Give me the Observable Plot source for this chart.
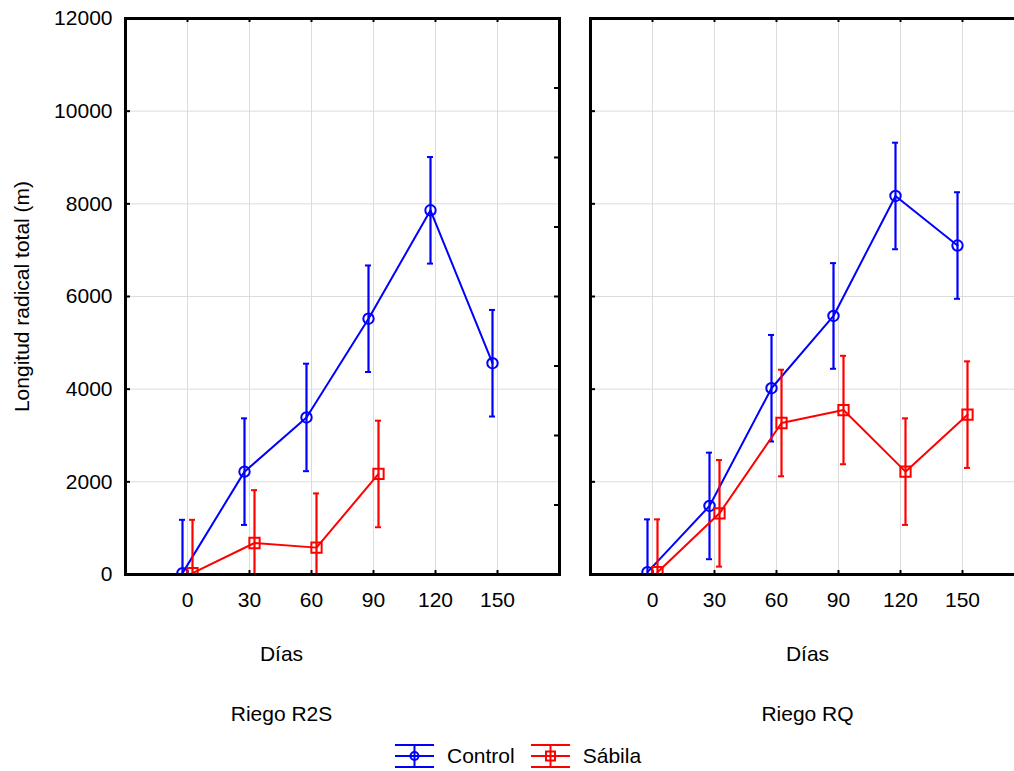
<!DOCTYPE html>
<html>
<head>
<meta charset="utf-8">
<script src="https://cdn.jsdelivr.net/npm/d3@7"></script>
<script src="https://cdn.jsdelivr.net/npm/@observablehq/plot@0.6"></script>
<style>
  html, body { margin: 0; padding: 0; background: #fff; overflow: hidden; }
  #wrap { position: relative; width: 1014px; height: 771px; overflow: hidden; }
  #chart svg { max-width: none !important; }
  #legend { position: absolute; left: 395px; top: 744px; display: flex; align-items: center;
            font-family: "Liberation Sans", Arial, sans-serif; font-size: 21px; color: #000; }
  #legend .item { display: flex; align-items: center; }
  #legend svg { display: block; }
</style>
</head>
<body>
<div id="wrap"><div id="chart"></div><div id="legend"></div></div>
<script>
// ---- data ----
const panels = ["Riego R2S", "Riego RQ"];
const series = ["Control", "Sábila"];
const seriesColors = ["#0000ff", "#ff0000"];
const days = [0, 30, 60, 90, 120, 150];

const r2sControl    = [30, 2220, 3390, 5520, 7860, 4560];
const r2sControlErr = [1150, 1150, 1160, 1150, 1150, 1150];
const r2sSabila     = [30, 680, 580, 2170];
const r2sSabilaErr  = [1150, 1140, 1170, 1150];

const rqControl     = [50, 1480, 4020, 5580, 8170, 7100];
const rqControlErr  = [1140, 1150, 1150, 1140, 1150, 1150];
const rqSabila      = [50, 1320, 3270, 3550, 2220, 3450];
const rqSabilaErr   = [1140, 1150, 1150, 1170, 1150, 1150];

const yTicks = [0, 2000, 4000, 6000, 8000, 10000, 12000];
const yRightTicks = [1500, 3000, 4500, 6000, 7500, 9000, 10500];
const yLabel = "Longitud radical total (m)";
const xLabel = "Días";

// ---- build table ----
function rowsFor(panel, s, values, errs) {
  return values.map((v, i) => ({panel, series: s, day: days[i], value: v, lo: v - errs[i], hi: v + errs[i]}));
}
const rows = [
  ...rowsFor(panels[0], series[0], r2sControl, r2sControlErr),
  ...rowsFor(panels[0], series[1], r2sSabila, r2sSabilaErr),
  ...rowsFor(panels[1], series[0], rqControl, rqControlErr),
  ...rowsFor(panels[1], series[1], rqSabila, rqSabilaErr)
];

const width = 1024, height = 740;
const marginLeft = 125, marginRight = 0, marginTop = 18, marginBottom = 166;
const frameH = height - marginTop - marginBottom;
const gap = 31;
const bandW = (width - marginLeft - marginRight - gap) / 2;

const seriesStyle = {
  "Control": {dx: -5, symbol: "circle", r: 5.2},
  "Sábila":  {dx: 5,  symbol: "square", r: 5.8}
};

const dataMarks = [];
for (const s of series) {
  const data = rows.filter(d => d.series === s);
  const st = seriesStyle[s];
  const common = {fx: "panel", stroke: "series", dx: st.dx, clip: true};
  dataMarks.push(
    Plot.ruleX(data, {...common, x: "day", y1: "lo", y2: "hi", strokeWidth: 2.2}),
    Plot.ruleY(data, {...common, y: "hi", x1: "day", x2: "day", insetLeft: -3, insetRight: -3, strokeWidth: 2}),
    Plot.ruleY(data, {...common, y: "lo", x1: "day", x2: "day", insetLeft: -3, insetRight: -3, strokeWidth: 2}),
    Plot.line(data, {...common, x: "day", y: "value", strokeWidth: 2}),
    Plot.dot(data, {...common, x: "day", y: "value", symbol: st.symbol, r: st.r, fill: "none", strokeWidth: 2})
  );
}

const fmt = d => String(d);

const chart = Plot.plot({
  width, height, marginLeft, marginRight, marginTop, marginBottom,
  style: {fontFamily: "'Liberation Sans', Arial, sans-serif", fontSize: "21px", color: "#000", background: "#fff", maxWidth: "none"},
  fx: {domain: panels, axis: null, paddingInner: gap / (bandW + gap), paddingOuter: 0, label: null},
  x: {domain: [-30, 180], label: null},
  y: {domain: [0, 12000], label: null},
  color: {domain: series, range: seriesColors},
  marks: [
    Plot.gridX(days, {stroke: "#dcdcdc", strokeOpacity: 1, strokeWidth: 1}),
    Plot.gridY(yTicks.slice(1, -1), {stroke: "#dcdcdc", strokeOpacity: 1, strokeWidth: 1}),
    // inward frame ticks
    Plot.ruleX(days, {insetTop: frameH - 4, stroke: "#000", strokeWidth: 2}),
    Plot.ruleX(days, {insetBottom: frameH - 4, stroke: "#000", strokeWidth: 2}),
    Plot.ruleY(yTicks, {insetRight: bandW - 5, stroke: "#000", strokeWidth: 2}),
    Plot.ruleY(yRightTicks, {insetLeft: bandW - 5, stroke: "#000", strokeWidth: 2}),
    Plot.axisX(days, {tickSize: 0, tickPadding: 18, label: null, fontSize: 21, tickFormat: fmt}),
    Plot.axisY(yTicks, {tickSize: 0, tickPadding: 13, label: yLabel, labelAnchor: "center", labelOffset: 111, labelArrow: "none", fontSize: 21, tickFormat: fmt}),
    ...dataMarks,
    Plot.frame({stroke: "#000", strokeWidth: 3}),
    Plot.text([panels[0]], {fx: d => d, text: () => xLabel, frameAnchor: "bottom", dx: -61, dy: 86, fontSize: 21}),
    Plot.text([panels[1]], {fx: d => d, text: () => xLabel, frameAnchor: "bottom", dx: 0, dy: 86, fontSize: 21}),
    Plot.text([panels[0]], {fx: d => d, text: d => d, frameAnchor: "bottom", dx: -61, dy: 146, fontSize: 21}),
    Plot.text([panels[1]], {fx: d => d, text: d => d, frameAnchor: "bottom", dx: 0, dy: 146, fontSize: 21})
  ]
});
chart.style.maxWidth = "none";
document.getElementById("chart").appendChild(chart);

// ---- legend ----
const legend = document.getElementById("legend");
series.forEach((s, i) => {
  const c = seriesColors[i];
  const item = document.createElement("div");
  item.className = "item";
  item.style.marginRight = i === 0 ? "16px" : "0";
  const marker = s === "Control"
    ? `<circle cx="19.5" cy="12" r="4" fill="none" stroke="${c}" stroke-width="2"/>`
    : `<rect x="15" y="7.5" width="9" height="9" fill="none" stroke="${c}" stroke-width="2"/>`;
  item.innerHTML = `<svg width="39" height="24" viewBox="0 0 39 24">
      <line x1="0" x2="39" y1="1" y2="1" stroke="${c}" stroke-width="2"/>
      <line x1="0" x2="39" y1="12" y2="12" stroke="${c}" stroke-width="2"/>
      <line x1="0" x2="39" y1="23" y2="23" stroke="${c}" stroke-width="2"/>
      <line x1="19.5" x2="19.5" y1="1" y2="23" stroke="${c}" stroke-width="2"/>
      ${marker}
    </svg><span style="margin-left:13px">${s}</span>`;
  legend.appendChild(item);
});
</script>
</body>
</html>
